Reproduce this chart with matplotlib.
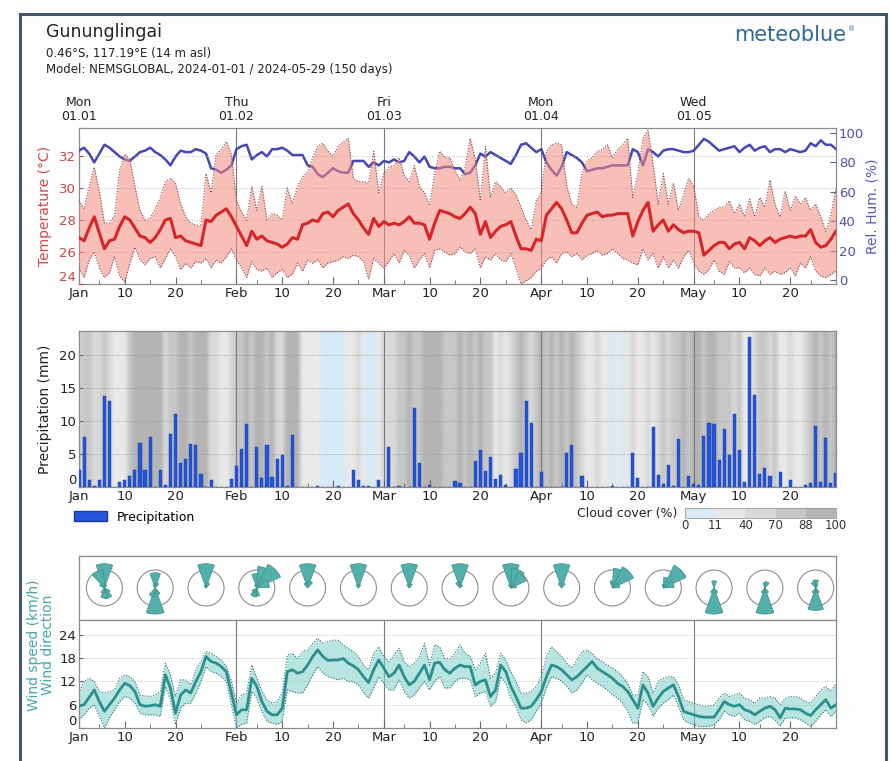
import numpy as np
import matplotlib
matplotlib.use('Agg')
import matplotlib.pyplot as plt
import matplotlib.transforms as mtransforms
from matplotlib.colors import ListedColormap, BoundaryNorm
from matplotlib.patches import Rectangle, Wedge, Circle, Patch
from matplotlib.cm import ScalarMappable

# ---- data (daily, 2024-01-01 .. 2024-05-29) ----
days = np.arange(150)

temp_mean = [26.9, 26.7, 27.5, 28.2, 27.2, 26.2, 26.7, 26.8, 27.6, 28.2,
             28.0, 27.5, 27.0, 26.9, 26.6, 26.9, 27.4, 28.0, 28.1, 26.9,
             27.0, 26.7, 26.6, 26.5, 26.4, 28.0, 27.9, 28.3, 28.5, 28.7,
             28.2, 27.6, 27.0, 26.4, 27.3, 26.8, 27.0, 26.7, 26.6, 26.5,
             26.3, 26.5, 26.9, 26.8, 27.7, 27.8, 28.0, 27.9, 28.4, 28.5,
             28.2, 28.6, 28.8, 29.0, 28.4, 28.0, 27.5, 27.1, 28.1, 27.6,
             27.9, 27.7, 27.8, 27.7, 27.9, 28.2, 27.8, 27.8, 27.7, 26.8,
             27.8, 28.6, 28.5, 28.4, 28.2, 28.1, 28.4, 28.8, 28.4, 27.1,
             27.9, 26.9, 27.3, 27.6, 27.7, 27.9, 27.0, 26.2, 26.2, 26.1,
             26.8, 26.7, 28.3, 28.7, 29.1, 28.7, 28.0, 27.2, 27.2, 27.8,
             28.3, 28.4, 28.5, 28.2, 28.3, 28.3, 28.4, 28.4, 28.4, 27.0,
             27.9, 28.6, 29.1, 27.3, 27.7, 28.0, 27.3, 27.7, 27.4, 27.2,
             27.3, 27.3, 27.2, 25.8, 26.1, 26.4, 26.6, 26.6, 26.2, 26.5,
             26.6, 26.2, 26.9, 26.7, 26.4, 26.7, 26.9, 26.6, 26.8, 26.9,
             27.0, 26.9, 27.0, 27.0, 27.4, 26.6, 26.3, 26.4, 26.8, 27.3]

temp_max = [29.2, 28.7, 30.1, 31.3, 29.8, 27.8, 27.8, 28.3, 31.1, 32.1,
            31.8, 30.1, 28.6, 28.0, 28.1, 28.7, 29.4, 30.4, 30.6, 30.3,
            29.0, 28.2, 27.8, 27.7, 27.6, 30.9, 29.7, 32.1, 32.4, 32.9,
            32.1, 29.2, 28.5, 28.0, 30.1, 28.6, 30.1, 28.0, 28.4, 28.3,
            28.0, 30.0, 29.0, 30.1, 30.7, 31.0, 31.9, 32.6, 32.8, 32.3,
            32.0, 32.6, 32.9, 33.1, 30.6, 30.4, 30.4, 30.3, 32.3, 29.7,
            30.9, 31.3, 31.4, 31.9, 30.8, 30.4, 31.4, 30.1, 29.7, 28.9,
            30.9, 32.3, 31.9, 31.9, 31.1, 30.5, 31.3, 33.1, 31.8, 29.2,
            32.6, 29.4, 30.4, 30.1, 29.7, 30.0, 29.6, 28.8, 28.0, 27.4,
            29.2, 29.7, 32.3, 32.7, 32.8, 32.7, 30.1, 29.0, 28.8, 30.9,
            31.7, 31.9, 32.3, 32.4, 32.7, 31.9, 32.4, 32.7, 33.1, 29.4,
            30.9, 33.1, 33.6, 31.5, 29.0, 30.9, 29.0, 30.3, 28.6, 29.6,
            30.6, 30.1, 28.2, 28.0, 28.4, 28.6, 28.8, 28.8, 29.2, 28.4,
            29.0, 28.2, 29.3, 28.2, 29.4, 28.8, 30.5, 29.0, 28.2, 29.8,
            28.6, 29.5, 29.0, 29.4, 28.6, 29.0, 28.2, 27.3, 28.3, 30.0]

temp_min = [25.0, 24.4, 25.5, 26.0, 25.0, 24.4, 24.7, 25.7, 24.5, 24.1,
            25.3, 26.3, 25.5, 25.2, 25.6, 25.7, 25.0, 25.6, 26.2, 25.7,
            24.9, 25.3, 25.0, 25.4, 25.3, 25.6, 25.0, 25.5, 25.3, 25.7,
            26.2, 25.5, 25.0, 24.4, 25.4, 24.9, 24.8, 25.0, 24.4, 24.7,
            24.9, 24.4, 24.6, 25.3, 24.8, 25.5, 25.3, 25.5, 25.0, 25.3,
            25.4, 25.5, 25.7, 25.6, 25.8, 25.7, 25.4, 24.3, 25.6, 25.3,
            25.0, 25.4, 25.9, 25.3, 26.1, 25.8, 25.0, 25.5, 25.9, 25.0,
            26.1, 26.2, 26.0, 25.8, 25.9, 26.3, 26.0, 25.9, 26.2, 25.0,
            25.7, 25.5, 25.9, 25.5, 25.4, 25.9, 25.0, 24.0, 24.2, 24.4,
            24.8, 25.0, 25.5, 25.7, 25.3, 25.9, 26.0, 25.7, 25.9, 25.5,
            25.8, 25.9, 26.1, 25.8, 25.9, 26.2, 25.9, 25.6, 25.5, 25.3,
            25.2, 26.2, 25.5, 25.9, 25.0, 25.7, 25.0, 25.5, 25.0, 25.7,
            26.1, 25.3, 24.8, 24.6, 24.9, 25.5, 24.8, 24.6, 25.4, 25.0,
            25.0, 24.7, 25.0, 24.6, 24.5, 25.0, 24.6, 24.8, 24.6, 24.7,
            25.0, 24.5, 25.3, 25.0, 25.7, 24.8, 24.5, 24.4, 24.6, 24.8]

rel_hum = [88, 90, 86, 80, 86, 92, 90, 87, 84, 82,
           81, 84, 87, 88, 90, 87, 85, 82, 78, 84,
           88, 87, 87, 89, 88, 86, 76, 75, 73, 75,
           78, 89, 91, 92, 82, 85, 87, 84, 89, 89,
           90, 88, 85, 85, 85, 78, 77, 72, 70, 73,
           76, 74, 73, 73, 81, 81, 81, 77, 80, 78,
           81, 80, 82, 80, 81, 87, 84, 80, 84, 77,
           76, 76, 77, 77, 76, 76, 72, 73, 78, 86,
           84, 87, 85, 83, 81, 79, 85, 92, 93, 90,
           87, 89, 80, 75, 71, 77, 87, 85, 83, 80,
           74, 75, 76, 76, 77, 78, 78, 78, 78, 89,
           87, 78, 89, 87, 84, 88, 89, 89, 88, 87,
           87, 88, 92, 96, 94, 91, 88, 89, 90, 91,
           87, 90, 92, 88, 90, 91, 87, 89, 89, 87,
           89, 88, 87, 88, 93, 91, 95, 92, 92, 89]

precip = [2.6, 7.6, 1.0, 0.2, 1.1, 13.8, 13.0, 0.0, 0.7, 1.0,
          1.7, 2.5, 6.6, 2.5, 7.6, 0.0, 2.6, 0.3, 8.0, 11.0,
          3.7, 4.3, 6.5, 6.3, 2.0, 0.0, 1.0, 0.0, 0.0, 0.0,
          1.2, 3.2, 5.7, 9.6, 0.0, 6.0, 1.3, 6.3, 1.5, 4.3,
          4.9, 0.2, 7.8, 0.0, 0.0, 0.0, 0.0, 0.1, 0.0, 0.0,
          0.0, 0.1, 0.0, 0.0, 2.5, 1.1, 0.1, 0.1, 0.0, 1.1,
          0.0, 6.0, 0.0, 0.1, 0.0, 0.0, 11.9, 3.7, 0.0, 0.3,
          0.0, 0.0, 0.0, 0.0, 0.9, 0.6, 0.0, 0.0, 3.9, 5.6,
          2.4, 4.6, 1.2, 1.8, 0.3, 0.0, 2.7, 5.1, 13.0, 9.7,
          0.0, 2.3, 0.0, 0.0, 0.0, 0.0, 5.1, 6.3, 0.0, 1.6,
          0.0, 0.0, 0.0, 0.0, 0.0, 0.2, 0.0, 0.0, 0.0, 5.1,
          1.4, 0.0, 0.0, 9.1, 1.8, 0.4, 3.4, 0.2, 7.3, 0.0,
          1.6, 0.4, 0.3, 7.7, 9.7, 9.5, 4.1, 8.7, 4.9, 11.0,
          5.6, 0.7, 22.7, 13.9, 2.0, 2.8, 1.7, 0.0, 2.2, 0.0,
          1.1, 0.0, 0.0, 0.3, 0.6, 9.3, 0.8, 7.4, 0.6, 2.1]

cloud = [55, 80, 80, 55, 55, 80, 55, 30, 30, 30,
         80, 95, 95, 95, 95, 95, 95, 55, 80, 80,
         95, 95, 80, 95, 95, 95, 55, 55, 30, 30,
         55, 80, 80, 95, 80, 95, 95, 80, 95, 55,
         55, 95, 95, 95, 30, 30, 30, 30, 5, 5,
         5, 5, 5, 30, 30, 55, 30, 5, 5, 30,
         55, 55, 55, 80, 80, 95, 80, 80, 95, 95,
         95, 95, 80, 80, 80, 95, 80, 95, 80, 95,
         80, 80, 30, 55, 30, 55, 80, 95, 80, 55,
         80, 95, 80, 95, 80, 95, 80, 95, 80, 55,
         30, 30, 55, 30, 30, 5, 30, 5, 30, 55,
         30, 30, 55, 30, 55, 80, 55, 80, 80, 95,
         80, 95, 95, 80, 95, 95, 80, 80, 80, 55,
         80, 30, 30, 55, 80, 80, 55, 80, 30, 30,
         55, 30, 30, 55, 80, 95, 80, 95, 80, 95]

wind_mean = [5.7, 6.0, 7.9, 9.8, 6.8, 4.3, 6.0, 7.7, 9.8, 11.5,
             10.9, 9.4, 6.0, 5.6, 5.7, 6.0, 5.6, 13.7, 10.3, 3.8,
             8.5, 9.8, 9.0, 12.0, 14.5, 18.4, 17.1, 16.7, 15.8, 14.5,
             9.0, 3.4, 4.7, 4.7, 12.8, 10.7, 6.8, 4.3, 3.4, 3.4,
             5.1, 14.5, 15.0, 14.1, 14.5, 16.2, 18.4, 20.1, 18.4, 17.4,
             17.5, 17.5, 17.9, 16.7, 16.0, 15.0, 13.2, 11.7, 15.0, 17.5,
             15.4, 13.2, 14.1, 16.2, 13.2, 11.1, 12.0, 14.1, 16.2, 12.4,
             16.7, 16.9, 15.0, 14.1, 15.4, 16.2, 15.8, 15.8, 11.1, 12.0,
             12.4, 8.1, 9.8, 16.2, 14.5, 10.7, 8.1, 5.1, 5.1, 5.6,
             7.3, 9.4, 13.2, 16.2, 15.8, 15.0, 13.7, 12.4, 13.2, 14.5,
             15.8, 17.1, 15.4, 14.5, 13.7, 12.8, 11.5, 10.7, 9.4, 7.3,
             5.1, 11.1, 9.0, 5.6, 7.7, 9.4, 10.3, 11.1, 8.1, 4.3,
             3.8, 3.4, 3.0, 2.8, 2.8, 2.8, 4.7, 6.8, 6.0, 5.6,
             6.0, 4.7, 4.3, 3.4, 4.3, 5.1, 5.6, 4.7, 2.6, 5.1,
             4.9, 4.9, 4.7, 3.8, 3.2, 4.7, 6.0, 7.3, 5.1, 6.0]

wind_max = [9.0, 12.0, 12.8, 12.0, 9.4, 9.0, 9.4, 9.8, 12.8, 13.7,
            13.2, 12.0, 8.5, 8.3, 8.1, 8.5, 9.4, 16.7, 13.7, 8.1,
            12.4, 12.4, 11.1, 15.0, 17.1, 19.7, 19.2, 18.4, 17.5, 15.8,
            12.0, 6.4, 8.5, 9.0, 16.2, 12.8, 9.4, 7.3, 6.4, 6.8,
            9.0, 18.8, 19.2, 17.9, 19.7, 20.1, 21.8, 23.1, 21.8, 22.2,
            22.6, 22.6, 21.4, 20.5, 19.7, 18.4, 16.2, 15.0, 19.2, 20.9,
            18.4, 17.1, 18.8, 20.5, 17.1, 15.8, 16.7, 18.4, 21.8, 16.2,
            21.4, 20.9, 17.9, 17.9, 19.2, 21.4, 19.2, 18.4, 15.0, 16.7,
            19.2, 12.8, 14.1, 19.2, 17.5, 14.5, 12.0, 9.0, 9.0, 9.4,
            10.7, 13.2, 18.4, 20.9, 19.7, 18.4, 16.7, 15.4, 17.5, 19.7,
            20.1, 19.2, 17.9, 17.1, 16.2, 15.4, 14.5, 13.2, 11.5, 8.5,
            8.5, 14.5, 13.2, 9.0, 12.0, 12.8, 13.2, 13.2, 11.1, 7.3,
            6.8, 6.4, 6.0, 5.6, 5.6, 6.0, 7.7, 9.0, 8.1, 8.5,
            9.0, 7.7, 7.3, 6.4, 7.7, 7.7, 8.1, 7.7, 6.0, 7.7,
            8.1, 8.1, 7.7, 6.8, 6.4, 8.1, 9.8, 10.7, 9.4, 11.5]

wind_min = [2.1, 3.4, 5.1, 6.0, 3.0, 0.0, 2.6, 4.7, 6.8, 8.1,
            7.7, 6.4, 3.8, 3.4, 3.4, 3.4, 3.0, 10.7, 7.3, 0.9,
            5.1, 6.4, 6.4, 9.0, 12.0, 15.8, 14.5, 14.1, 13.2, 12.0,
            6.0, 0.0, 0.9, 1.3, 9.4, 7.7, 4.3, 1.7, 1.3, 0.9,
            1.7, 9.8, 9.4, 9.0, 9.0, 11.1, 13.7, 15.8, 14.1, 13.2,
            12.8, 12.4, 12.8, 12.0, 12.0, 11.1, 9.0, 7.7, 10.3, 13.2,
            11.5, 9.8, 9.8, 12.4, 9.4, 7.7, 8.5, 10.3, 12.0, 9.8,
            12.0, 13.2, 10.3, 10.3, 12.0, 12.8, 12.8, 12.4, 8.1, 9.0,
            9.4, 5.6, 6.8, 13.2, 11.5, 7.7, 5.6, 2.1, 1.3, 2.1,
            4.3, 6.4, 10.3, 13.2, 12.8, 12.0, 10.7, 9.0, 9.8, 11.5,
            13.7, 12.4, 11.5, 10.7, 9.8, 8.5, 7.7, 6.4, 4.3, 1.3,
            1.3, 7.3, 6.0, 3.0, 5.1, 6.4, 7.3, 8.5, 5.6, 2.1,
            1.3, 0.9, 0.4, 0.4, 0.4, 0.9, 2.1, 4.3, 3.4, 3.0,
            3.8, 2.1, 1.7, 0.9, 1.7, 2.6, 3.0, 2.1, 0.4, 2.6,
            2.6, 2.6, 2.1, 1.3, 0.4, 1.7, 3.4, 4.7, 3.0, 4.3]

# wind rose per 10-day block, 16 sectors N, NNE, ... NNW (length in circle radii)
roses = [
    [1.35, 0.2, 0, 0, 0, 0, 0.35, 0.6, 0.55, 0.3, 0, 0, 0, 0, 0.3, 1.0],
    [0.85, 0.3, 0, 0, 0, 0, 0, 0.4, 1.45, 0.5, 0, 0, 0, 0, 0, 0.2],
    [1.35, 0.3, 0, 0, 0, 0, 0, 0, 0, 0, 0, 0, 0, 0, 0, 0.15],
    [0.8, 1.2, 1.45, 0.7, 0, 0, 0, 0, 0.45, 0.5, 0.3, 0, 0, 0, 0, 0.2],
    [1.35, 0.4, 0, 0, 0, 0, 0, 0, 0, 0, 0, 0, 0, 0, 0, 0.3],
    [1.35, 0.2, 0, 0, 0, 0, 0, 0, 0, 0, 0, 0, 0, 0, 0, 0.2],
    [1.35, 0.25, 0, 0, 0, 0, 0, 0, 0, 0, 0, 0, 0, 0, 0, 0.2],
    [1.35, 0.2, 0, 0, 0, 0, 0, 0, 0, 0, 0, 0, 0, 0, 0, 0.35],
    [1.35, 1.1, 0.95, 0.3, 0, 0, 0, 0, 0, 0, 0, 0, 0, 0, 0, 0.2],
    [1.35, 0.3, 0, 0, 0, 0, 0, 0, 0, 0, 0, 0, 0, 0, 0, 0.3],
    [0.4, 1.1, 1.3, 0.4, 0, 0, 0, 0, 0, 0, 0, 0, 0, 0, 0, 0],
    [0.2, 0.6, 1.4, 0.6, 0, 0, 0, 0, 0, 0, 0, 0, 0, 0, 0, 0],
    [0.4, 0, 0, 0, 0, 0, 0, 0.3, 1.45, 0.3, 0, 0, 0, 0, 0, 0],
    [0.3, 0.35, 0, 0, 0, 0, 0, 0.3, 1.45, 0.3, 0, 0, 0, 0, 0, 0],
    [0.45, 0.2, 0, 0, 0, 0, 0, 0.3, 1.25, 0.3, 0, 0, 0, 0, 0, 0.35],
]

major_days = [0, 9, 19, 31, 40, 50, 60, 69, 79, 91, 100, 110, 121, 130, 140]
major_labels = ['Jan', '10', '20', 'Feb', '10', '20', 'Mar', '10', '20',
                'Apr', '10', '20', 'May', '10', '20']
minor_days = [4, 14, 24, 35, 45, 55, 64, 74, 84, 95, 105, 115, 125, 134, 144]
month_starts = [31, 60, 91, 121]
top_labels = ['Mon\n01.01', 'Thu\n01.02', 'Fri\n01.03', 'Mon\n01.04', 'Wed\n01.05']
top_label_days = [0, 31, 60, 91, 121]

cloud_bounds = [0, 11, 40, 70, 88, 100]
cloud_colors = ['#d7ebf7', '#e9e9e9', '#d9d9d9', '#c7c7c7', '#b4b4b4']

# ---- layout helpers ----
W, H = 890, 761
XMAX = 149


def box(x, y, w, h):
    return [x / W, 1 - (y + h) / H, w / W, h / H]


def fx(x):
    return x / W


def fy(y):
    return 1 - y / H


fig = plt.figure(figsize=(8.9, 7.61), dpi=100)
fig.patch.set_facecolor('white')
fig.patches.append(Rectangle((fx(20), fy(775)), fx(866), 775 / H - 14 / H,
                             transform=fig.transFigure, facecolor='#fdfdfd',
                             edgecolor='#46566f', lw=2.2, zorder=-10))

fig.text(fx(46), fy(32), 'Gununglingai', fontsize=12.5, va='center', color='#222')
fig.text(fx(46), fy(54), '0.46°S, 117.19°E (14 m asl)', fontsize=8.5, va='center', color='#222')
fig.text(fx(46), fy(70), 'Model: NEMSGLOBAL, 2024-01-01 / 2024-05-29 (150 days)',
         fontsize=8.5, va='center', color='#222')
fig.text(fx(846), fy(35), 'meteoblue', fontsize=15, ha='right', va='center', color='#2f6a94')
fig.text(fx(848), fy(29), '®', fontsize=5, ha='left', va='center', color='#2f6a94')


def style_xaxis(ax):
    ax.set_xlim(0, XMAX)
    ax.set_xticks(major_days)
    ax.set_xticklabels(major_labels)
    ax.set_xticks(minor_days, minor=True)
    ax.tick_params(axis='x', which='major', direction='in', length=5, labelsize=9.5,
                   pad=2, color='#666', labelcolor='#222')
    ax.tick_params(axis='x', which='minor', direction='in', length=3, color='#666')
    for d in month_starts:
        ax.axvline(d, color='#7a7a7a', lw=0.8, zorder=1.2)
    for s in ax.spines.values():
        s.set_color('#8a8a8a')
        s.set_linewidth(0.9)


# ---- temperature / humidity ----
ax_h = fig.add_axes(box(79, 128, 757, 156))
ax_t = ax_h.twinx()
ax_h.yaxis.tick_right()
ax_t.yaxis.tick_left()

ax_h.plot(days, rel_hum, color='#4646b6', lw=1.8, zorder=3)
ax_h.set_ylim(-2.7, 103.4)
ax_h.set_yticks([0, 20, 40, 60, 80, 100])
ax_h.tick_params(axis='y', direction='in', length=4, labelsize=9.5, pad=2,
                 colors='#5858b0', labelcolor='#5050aa')
style_xaxis(ax_h)

ax_t.fill_between(days, temp_min, temp_max, color='#f48c80', alpha=0.55, lw=0, zorder=2)
ax_t.plot(days, temp_max, color='#7a4848', lw=0.8, ls=(0, (1, 1.5)), zorder=2.5)
ax_t.plot(days, temp_min, color='#7a4848', lw=0.8, ls=(0, (1, 1.5)), zorder=2.5)
ax_t.plot(days, temp_mean, color='#d62628', lw=2.2, zorder=4)
ax_t.set_ylim(24, 33.75)
ax_t.set_yticks([24, 26, 28, 30, 32])
ax_t.tick_params(axis='y', direction='in', length=3, labelsize=9.5, pad=2,
                 colors='#c84848', labelcolor='#c84848')
ax_t.grid(axis='y', color='#aaaaaa', lw=0.6, ls=(0, (1, 2)))
ax_t.set_xlim(0, XMAX)
ax_t.yaxis.get_major_ticks()[0].label1.set_va('bottom')
for s in ax_t.spines.values():
    s.set_visible(False)

fig.text(fx(45), fy(206), 'Temperature (°C)', rotation=90, ha='center', va='center',
         fontsize=10, color='#cc4a4a')
fig.text(fx(872), fy(206), 'Rel. Hum. (%)', rotation=90, ha='center', va='center',
         fontsize=10, color='#5a5ab8')

trans = mtransforms.blended_transform_factory(ax_h.transData, ax_h.transAxes)
for d, lab in zip(top_label_days, top_labels):
    ax_h.text(d, 1.03, lab, transform=trans, ha='center', va='bottom', fontsize=9,
              color='#222', linespacing=1.15)

# ---- precipitation / cloud cover ----
ax_p = fig.add_axes(box(79, 331, 757, 156))
P_TOP = 23.6
cmap_c = ListedColormap(cloud_colors)
norm_c = BoundaryNorm(cloud_bounds, cmap_c.N)
ax_p.imshow(np.array(cloud)[None, :], cmap=cmap_c, norm=norm_c, aspect='auto',
            extent=(-0.5, 149.5, 0, P_TOP), interpolation='bilinear',
            interpolation_stage='rgba', zorder=0)
ax_p.bar(days, precip, width=0.62, color='#2254dc', edgecolor='#1a3a9c', lw=0.3, zorder=3)
ax_p.set_ylim(0, P_TOP)
ax_p.set_yticks([0, 5, 10, 15, 20])
ax_p.tick_params(axis='y', direction='in', length=3, labelsize=9.5, pad=2,
                 colors='#666', labelcolor='#222')
ax_p.grid(axis='y', color='#8f8f8f', lw=0.6, ls=(0, (1, 2)))
style_xaxis(ax_p)
ax_p.yaxis.get_major_ticks()[0].label1.set_va('bottom')
fig.text(fx(45), fy(409), 'Precipitation (mm)', rotation=90, ha='center', va='center',
         fontsize=10, color='#222')

fig.legend(handles=[Patch(facecolor='#2254dc', edgecolor='#1a3a9c', label='Precipitation')],
           loc='center left', bbox_to_anchor=(fx(74), fy(517)), frameon=False,
           fontsize=9, handlelength=2.6, handleheight=0.8, handletextpad=0.8,
           borderpad=0, borderaxespad=0)

cax = fig.add_axes(box(685, 508, 151, 10))
cb = fig.colorbar(ScalarMappable(norm=norm_c, cmap=cmap_c), cax=cax,
                  orientation='horizontal', spacing='uniform', ticks=cloud_bounds)
cb.ax.tick_params(length=0, labelsize=8.5, pad=1, labelcolor='#333')
cb.outline.set_edgecolor('#999')
cb.outline.set_linewidth(0.6)
fig.text(fx(677), fy(513), 'Cloud cover (%)', ha='right', va='center', fontsize=9, color='#222')

# ---- wind roses ----
ax_r = fig.add_axes(box(79, 556, 757, 64))
ax_r.set_xlim(0, XMAX)
R_H = 64 / (757 / XMAX)
ax_r.set_ylim(0, R_H)
ax_r.set_xticks([])
ax_r.set_yticks([])
for s in ax_r.spines.values():
    s.set_color('#8a8a8a')
    s.set_linewidth(0.9)
radius = 18 / (757 / XMAX)
for i, rose in enumerate(roses):
    cx, cy = 5 + 10 * i, R_H / 2
    ax_r.add_patch(Circle((cx, cy), radius, fill=False, ec='#8c8c8c', lw=0.8))
    for k, length in enumerate(rose):
        if length <= 0:
            continue
        ang = 90 - k * 22.5
        ax_r.add_patch(Wedge((cx, cy), radius * length, ang - 20, ang + 20,
                             facecolor='#52afaa', edgecolor='#3d8f8b', lw=0.5))

# ---- wind speed ----
ax_w = fig.add_axes(box(79, 620, 757, 108))
ax_w.fill_between(days, wind_min, wind_max, color='#7fd0cb', alpha=0.55, lw=0, zorder=2)
ax_w.plot(days, wind_max, color='#2c6e6b', lw=0.8, ls=(0, (1, 1.5)), zorder=2.5)
ax_w.plot(days, wind_min, color='#2c6e6b', lw=0.8, ls=(0, (1, 1.5)), zorder=2.5)
ax_w.plot(days, wind_mean, color='#2b8f8b', lw=2.0, zorder=4)
ax_w.set_ylim(0, 27.8)
ax_w.set_yticks([0, 6, 12, 18, 24])
ax_w.tick_params(axis='y', direction='in', length=3, labelsize=9.5, pad=2,
                 colors='#666', labelcolor='#222')
ax_w.grid(axis='y', color='#aaaaaa', lw=0.6, ls=(0, (1, 2)))
style_xaxis(ax_w)
ax_w.yaxis.get_major_ticks()[0].label1.set_va('bottom')
fig.text(fx(41), fy(645), 'Wind speed (km/h)\nWind direction', rotation=90, ha='center',
         va='center', fontsize=10, color='#45a8a8', linespacing=1.0)

fig.savefig('out.png', dpi=100)
